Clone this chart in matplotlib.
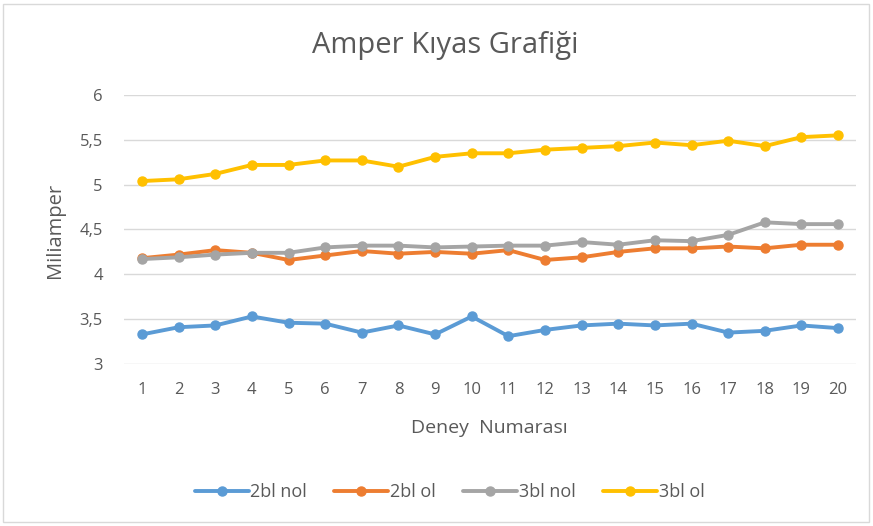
import numpy as np
import matplotlib.pyplot as plt
from matplotlib.patches import Rectangle
from matplotlib.ticker import FuncFormatter

plt.rcParams['font.family'] = ['Open Sans', 'DejaVu Sans']

deney = list(range(1, 21))
bl2_nol = [3.33, 3.41, 3.43, 3.53, 3.46, 3.45, 3.35, 3.43, 3.33, 3.53,
           3.31, 3.38, 3.43, 3.45, 3.43, 3.45, 3.35, 3.37, 3.43, 3.40]
bl2_ol = [4.18, 4.22, 4.27, 4.24, 4.16, 4.21, 4.26, 4.23, 4.25, 4.23,
          4.27, 4.16, 4.19, 4.25, 4.29, 4.29, 4.31, 4.29, 4.33, 4.33]
bl3_nol = [4.17, 4.19, 4.22, 4.24, 4.24, 4.30, 4.32, 4.32, 4.30, 4.31,
           4.32, 4.32, 4.36, 4.33, 4.38, 4.37, 4.44, 4.58, 4.56, 4.56]
bl3_ol = [5.04, 5.06, 5.12, 5.22, 5.22, 5.27, 5.27, 5.20, 5.31, 5.35,
          5.35, 5.39, 5.41, 5.43, 5.47, 5.44, 5.49, 5.43, 5.53, 5.55]

series = [("2bl nol", bl2_nol, "#5B9BD5"),
          ("2bl ol", bl2_ol, "#ED7D31"),
          ("3bl nol", bl3_nol, "#A5A5A5"),
          ("3bl ol", bl3_ol, "#FFC000")]

TXT = "#595959"

fig = plt.figure(figsize=(8.73, 5.26), dpi=100)
ax = fig.add_axes([0.1417, 0.308, 0.8393, 0.5114])

for name, vals, col in series:
    ax.plot(deney, vals, color=col, lw=2.8, marker="o", ms=6.5, label=name,
            solid_capstyle="round", solid_joinstyle="round")

ax.set_xlim(0.5, 20.5)
ax.set_ylim(3, 6)
ax.set_yticks(np.arange(3, 6.01, 0.5))
ax.yaxis.set_major_formatter(FuncFormatter(lambda v, p: f"{v:g}".replace(".", ",")))
ax.set_xticks(deney)
ax.grid(axis="y", color="#D9D9D9", lw=1)
ax.set_axisbelow(True)
for s in ax.spines.values():
    s.set_visible(False)
ax.tick_params(axis="both", length=0, labelsize=12, colors=TXT)
ax.tick_params(axis="x", pad=13)
ax.tick_params(axis="y", pad=15)

fig.text(0.561, 0.186, "Deney  Numarası", ha="center", va="center",
         fontsize=14, color=TXT)
fig.text(0.063, 0.561, "Miliamper", ha="center", va="center", rotation=90,
         fontsize=14.5, color=TXT)
fig.text(0.510, 0.914, "Amper Kıyas Grafiği", ha="center", va="center",
         fontsize=21, color=TXT)

leg = fig.legend(loc="center", bbox_to_anchor=(0.515, 0.064), ncol=4,
                 frameon=False, fontsize=13, handlelength=3.0,
                 handletextpad=0.1, columnspacing=1.5)
for t in leg.get_texts():
    t.set_color(TXT)

fig.patches.append(Rectangle((0.004, 0.008), 0.991, 0.985, transform=fig.transFigure,
                             fill=False, edgecolor="#D9D9D9", lw=1))

fig.savefig("out.png", dpi=100)
